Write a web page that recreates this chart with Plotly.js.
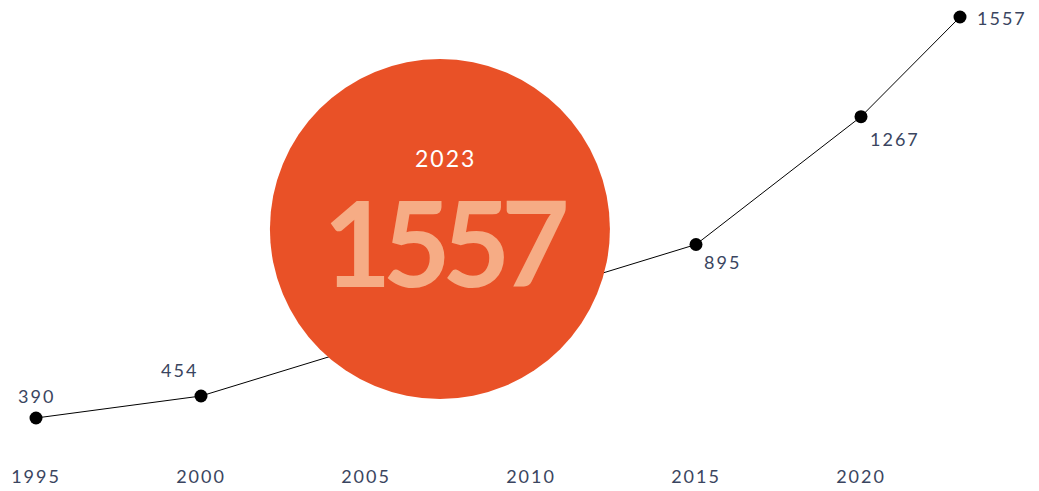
<!DOCTYPE html>
<html>
<head>
<meta charset="utf-8">
<script src="https://cdn.plot.ly/plotly-3.0.1.min.js"></script>
<style>
html,body{margin:0;padding:0;background:#fff;}
#chart{width:1039px;height:491px;}
.xtick text, .annotation-text{letter-spacing:2px;}
.annotation[data-index="6"] text{letter-spacing:-9px;}
</style>
</head>
<body>
<div id="chart"></div>
<script>
const years = [1995, 2000, 2015, 2020, 2023];
const values = [390, 454, 895, 1267, 1557];
const tickYears = [1995, 2000, 2005, 2010, 2015, 2020];
const highlightYear = "2023";
const highlightValue = "1557";

const labelColor = '#3a4560';
const labelPos = [
  {xshift: 0, yshift: 22},
  {xshift: -22, yshift: 26},
  {xshift: 26, yshift: -18},
  {xshift: 34, yshift: -22},
  {xshift: 42, yshift: -1}
];

const annotations = years.map((y, i) => ({
  x: y, y: values[i], xref: 'x', yref: 'y',
  text: String(values[i]), showarrow: false,
  xshift: labelPos[i].xshift, yshift: labelPos[i].yshift,
  font: {family: 'Lato, sans-serif', size: 18, color: labelColor}
}));

const cx = 2007.24, cy = 940;
annotations.push({
  x: cx, y: cy, xref: 'x', yref: 'y', text: highlightYear, showarrow: false,
  xshift: 6, yshift: 71,
  font: {family: 'Lato, sans-serif', size: 23, color: '#ffffff'}
});
annotations.push({
  x: cx, y: cy, xref: 'x', yref: 'y', text: highlightValue, showarrow: false,
  xshift: 2, yshift: -12,
  font: {family: 'Lato, sans-serif', size: 118, weight: 'bold', color: '#F6AC85'}
});

const trace = {
  x: years, y: values, type: 'scatter', mode: 'lines+markers',
  line: {color: '#000000', width: 1},
  marker: {color: '#000000', size: 13},
  hoverinfo: 'none', cliponaxis: false
};

const layout = {
  width: 1039, height: 491,
  margin: {l: 0, r: 0, t: 0, b: 35},
  paper_bgcolor: '#ffffff', plot_bgcolor: '#ffffff',
  showlegend: false,
  xaxis: {
    range: [1993.909, 2025.394], showgrid: false, zeroline: false, showline: false,
    tickvals: tickYears, ticktext: tickYears.map(String), ticks: '',
    ticklabelstandoff: 8,
    tickfont: {family: 'Lato, sans-serif', size: 18, color: labelColor}
  },
  yaxis: {
    range: [279.4, 1606.5], visible: false, showgrid: false, zeroline: false
  },
  shapes: [{
    type: 'circle', layer: 'above',
    xref: 'x', yref: 'y', xsizemode: 'pixel', ysizemode: 'pixel',
    xanchor: cx, yanchor: cy, x0: -170, x1: 170, y0: -170, y1: 170,
    fillcolor: '#E95127', line: {width: 0}
  }],
  annotations: annotations
};

Plotly.newPlot('chart', [trace], layout, {displayModeBar: false, staticPlot: true});
</script>
</body>
</html>
